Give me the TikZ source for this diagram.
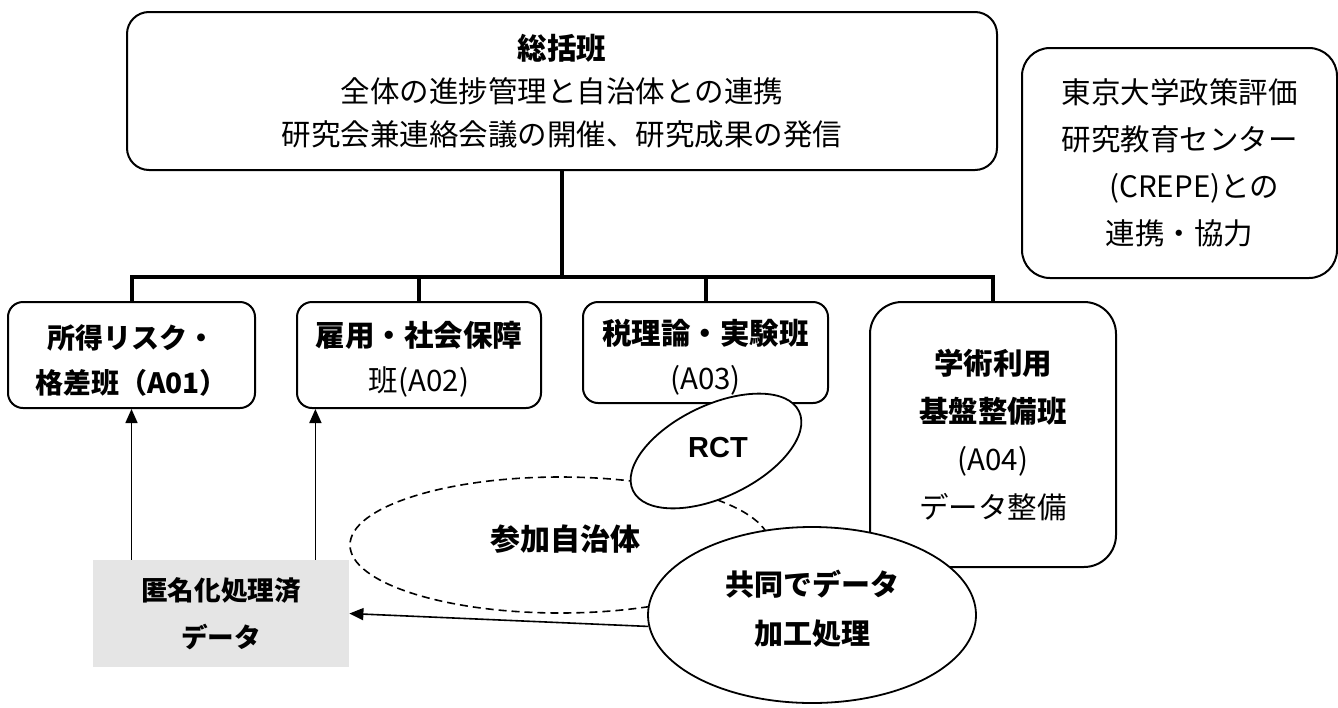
\documentclass[tikz,border=0pt]{standalone}
\usepackage{fontspec}
\newfontfamily\jp{Noto Sans CJK JP}
\newfontfamily\arialfont{Liberation Sans}
\usetikzlibrary{shapes.geometric,arrows.meta,calc}
\newcommand{\upstrut}{\rule{0pt}{17pt}}
\begin{document}
\begin{tikzpicture}[x=0.5pt,y=-0.5pt,
  box/.style={draw, line width=1pt, align=center, inner sep=0pt, fill=white},
  trunk/.style={line width=2pt, line join=miter, line cap=rect},
  arr/.style={line width=0.8pt, -{Triangle[length=7pt,width=6pt]}},
  oval/.style={draw, ellipse, line width=0.9pt, inner sep=0pt, fill=white},
  tx/.style={font=\jp\fontsize{14.75}{#1}\selectfont},
  tx/.default=22pt
]
\useasboundingbox (0,0) rectangle (1338,707);

% top box
\node[box, rounded corners=11pt, minimum width=435pt, minimum height=79pt,
      tx=21.5pt] (top) at (562,91)
  {{\bfseries 総括班}\\全体の進捗管理と自治体との連携\\研究会兼連絡会議の開催、研究成果の発信};

% CREPE box
\node[box, rounded corners=14pt, minimum width=157.5pt, minimum height=115pt,
      tx=23.5pt] (crepe) at (1179.5,163)
  {東京大学政策評価\\研究教育センター\\\hspace*{1em}(CREPE)との\\連携・協力};

% group boxes
\node[box, rounded corners=7.5pt, minimum width=123.5pt, minimum height=53pt,
      font=\jp\bfseries\fontsize{14}{22.5pt}\selectfont] (a01) at (131.5,355)
  {\upstrut 所得リスク・\\格差班（A01）};
\node[box, rounded corners=7.5pt, minimum width=122pt, minimum height=53pt,
      tx=22.5pt] (a02) at (419,355)
  {\upstrut{\bfseries 雇用・社会保障}\\班(A02)};
\node[box, rounded corners=7.5pt, minimum width=122.5pt, minimum height=50.5pt,
      tx=22.5pt] (a03) at (705.5,352.5)
  {\upstrut{\bfseries 税理論・実験班}\\(A03)};
\node[box, rounded corners=16pt, minimum width=123pt, minimum height=132.5pt,
      tx=24pt] (a04) at (993,434.5)
  {{\bfseries 学術利用}\\{\bfseries 基盤整備班}\\(A04)\\データ整備};

% trunk connectors
\coordinate (hub) at (top.south |- 0,277);
\draw[trunk] (top.south) -- (hub);
\draw[trunk] (a01.north) |- (hub) -| (a04.north);
\draw[trunk] (a02.north) -- (a02.north |- hub);
\draw[trunk] (a03.north) -- (a03.north |- hub);

% anonymised data box
\node[fill=gray!20, minimum width=128pt, minimum height=53.5pt, inner sep=0pt,
      align=center, font=\jp\bfseries\fontsize{13.3}{23.5pt}\selectfont] (anon) at (221,613.5)
  {匿名化処理済\\データ};

% participating municipalities (dashed)
\node[draw, ellipse, dash pattern=on 4pt off 2.5pt, line width=0.8pt, inner sep=0pt,
      minimum width=210pt, minimum height=68pt,
      font=\jp\bfseries\fontsize{15}{18}\selectfont] (part) at (560,545)
  {\hspace*{5pt}参加自治体\rule[-7pt]{0pt}{1pt}};

% RCT
\node[oval, minimum width=92pt, minimum height=46pt, rotate=25.5] (rct) at (716,451) {};
\node[font=\arialfont\bfseries\fontsize{14.5}{16}\selectfont, inner sep=0pt] (rcttext) at (718,448) {RCT};

% joint processing
\node[oval, minimum width=164pt, minimum height=88pt, align=center,
      font=\jp\bfseries\fontsize{14.5}{24.5pt}\selectfont] (coop) at (812,615)
  {共同でデータ\\加工処理\rule[-8pt]{0pt}{1pt}};

% arrows
\draw[arr] (anon.north -| a01.south) -- (a01.south);
\draw[arr] ([xshift=-17pt]anon.north east) -- ([xshift=-17pt]anon.north east |- a02.south);
\draw[arr] (coop.184) -- (anon.east);
\end{tikzpicture}
\end{document}
